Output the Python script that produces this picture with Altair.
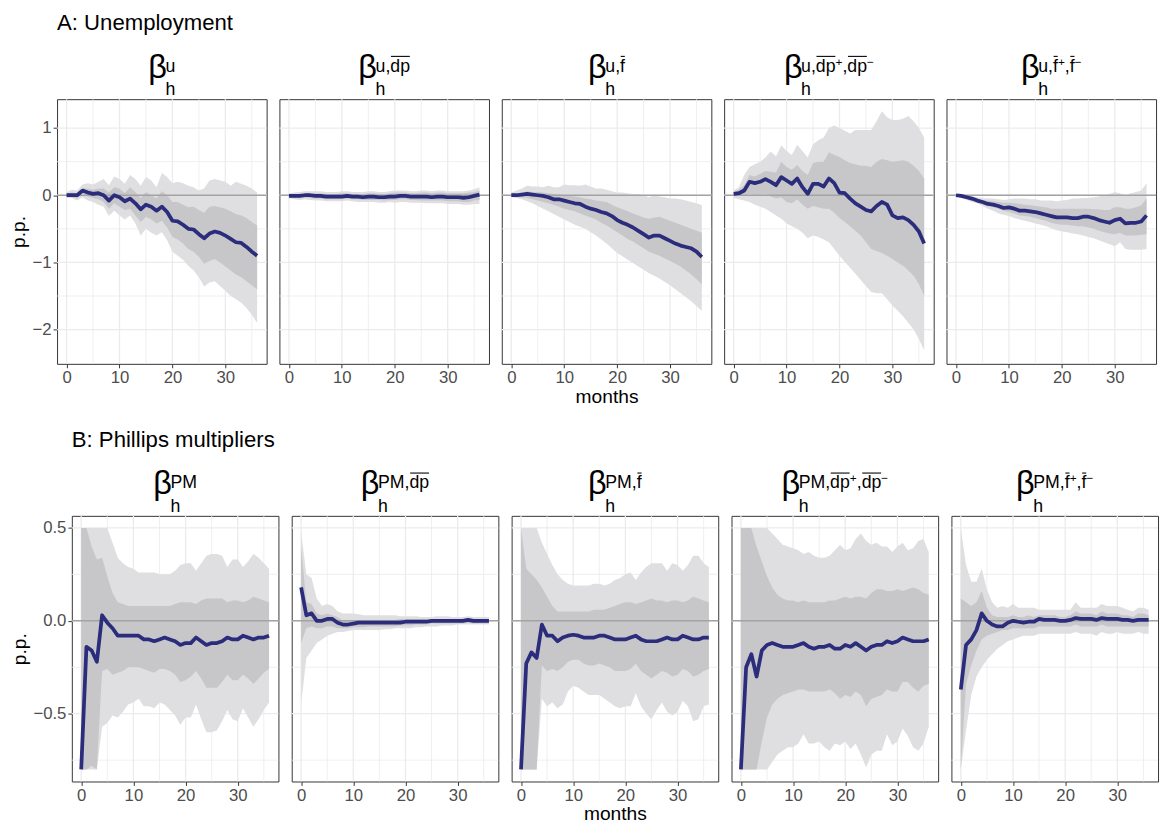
import altair as alt
import pandas as pd

months = list(range(37))

# ---------------- A: unemployment responses ----------------
a1_est = [0.0, 0.0, 0.0, 0.07, 0.04, 0.02, 0.03, 0.0, -0.08, 0.0, -0.03, -0.09, -0.05, -0.12, -0.21, -0.14, -0.17, -0.23, -0.17, -0.25, -0.38, -0.39, -0.44, -0.5, -0.51, -0.58, -0.64, -0.57, -0.54, -0.56, -0.6, -0.65, -0.7, -0.71, -0.77, -0.84, -0.9]
a1_hi90 = [0.05, 0.08, 0.07, 0.16, 0.18, 0.16, 0.2, 0.24, 0.15, 0.28, 0.24, 0.17, 0.3, 0.24, 0.14, 0.27, 0.22, 0.12, 0.33, 0.27, 0.18, 0.2, 0.18, 0.14, 0.12, 0.07, 0.1, 0.22, 0.24, 0.22, 0.2, 0.14, 0.2, 0.17, 0.14, 0.1, 0.04]
a1_lo90 = [-0.04, -0.04, -0.08, -0.03, -0.08, -0.1, -0.14, -0.17, -0.31, -0.23, -0.3, -0.36, -0.3, -0.42, -0.6, -0.5, -0.56, -0.6, -0.55, -0.67, -0.84, -0.9, -0.96, -1.05, -1.12, -1.22, -1.36, -1.3, -1.28, -1.35, -1.42, -1.5, -1.55, -1.6, -1.68, -1.78, -1.9]
a1_hi68 = [0.03, 0.04, 0.03, 0.1, 0.1, 0.08, 0.1, 0.1, 0.04, 0.12, 0.1, 0.03, 0.12, 0.05, -0.04, 0.05, 0.0, -0.05, 0.06, 0.0, -0.1, -0.1, -0.14, -0.18, -0.17, -0.22, -0.26, -0.17, -0.16, -0.18, -0.2, -0.24, -0.28, -0.3, -0.34, -0.4, -0.45]
a1_lo68 = [-0.02, -0.03, -0.05, 0.03, -0.02, -0.04, -0.06, -0.1, -0.2, -0.12, -0.17, -0.22, -0.2, -0.3, -0.4, -0.32, -0.36, -0.42, -0.38, -0.48, -0.62, -0.66, -0.72, -0.8, -0.84, -0.92, -1.02, -0.98, -0.95, -1.0, -1.06, -1.12, -1.18, -1.22, -1.28, -1.34, -1.4]

a2_est = [-0.01, -0.01, -0.01, 0.0, 0.0, -0.01, -0.01, -0.02, -0.02, -0.02, -0.02, -0.01, -0.02, -0.02, -0.03, -0.02, -0.02, -0.03, -0.03, -0.02, -0.02, -0.01, -0.01, -0.02, -0.02, -0.02, -0.02, -0.03, -0.02, -0.02, -0.03, -0.03, -0.03, -0.04, -0.03, -0.01, 0.01]
a2_hi90 = [0.03, 0.04, 0.05, 0.06, 0.06, 0.06, 0.06, 0.05, 0.05, 0.05, 0.06, 0.06, 0.05, 0.05, 0.05, 0.06, 0.06, 0.05, 0.05, 0.06, 0.07, 0.07, 0.07, 0.06, 0.06, 0.07, 0.07, 0.06, 0.07, 0.07, 0.06, 0.06, 0.06, 0.06, 0.07, 0.09, 0.12]
a2_lo90 = [-0.05, -0.06, -0.07, -0.06, -0.07, -0.08, -0.08, -0.09, -0.09, -0.09, -0.09, -0.08, -0.09, -0.1, -0.1, -0.1, -0.1, -0.11, -0.11, -0.1, -0.11, -0.1, -0.1, -0.11, -0.11, -0.11, -0.12, -0.12, -0.12, -0.12, -0.13, -0.13, -0.13, -0.14, -0.14, -0.13, -0.13]
a2_hi68 = [0.01, 0.02, 0.02, 0.03, 0.03, 0.03, 0.03, 0.02, 0.02, 0.02, 0.03, 0.03, 0.02, 0.02, 0.02, 0.03, 0.03, 0.02, 0.02, 0.03, 0.04, 0.04, 0.04, 0.03, 0.03, 0.04, 0.04, 0.03, 0.04, 0.04, 0.03, 0.03, 0.03, 0.03, 0.04, 0.05, 0.07]
a2_lo68 = [-0.03, -0.04, -0.04, -0.03, -0.04, -0.05, -0.05, -0.06, -0.06, -0.06, -0.06, -0.05, -0.06, -0.06, -0.07, -0.07, -0.07, -0.07, -0.08, -0.07, -0.07, -0.06, -0.06, -0.07, -0.07, -0.08, -0.08, -0.08, -0.08, -0.08, -0.09, -0.09, -0.09, -0.1, -0.1, -0.08, -0.07]

a3_est = [0.0, 0.0, 0.01, 0.02, 0.01, 0.0, -0.01, -0.03, -0.06, -0.06, -0.08, -0.1, -0.12, -0.13, -0.17, -0.2, -0.22, -0.25, -0.27, -0.31, -0.37, -0.41, -0.44, -0.48, -0.53, -0.58, -0.63, -0.6, -0.6, -0.64, -0.68, -0.72, -0.75, -0.77, -0.79, -0.84, -0.92]
a3_hi90 = [0.04, 0.07, 0.1, 0.14, 0.13, 0.13, 0.12, 0.14, 0.12, 0.12, 0.16, 0.15, 0.15, 0.14, 0.16, 0.13, 0.1, 0.1, 0.08, 0.06, 0.04, 0.04, 0.03, 0.02, 0.02, 0.0, -0.03, 0.0, -0.02, -0.03, -0.05, -0.05, -0.06, -0.08, -0.1, -0.12, -0.15]
a3_lo90 = [-0.03, -0.04, -0.06, -0.09, -0.12, -0.16, -0.2, -0.24, -0.28, -0.32, -0.36, -0.4, -0.44, -0.47, -0.5, -0.55, -0.6, -0.66, -0.72, -0.79, -0.86, -0.91, -0.96, -1.01, -1.06, -1.11, -1.16, -1.2, -1.24, -1.29, -1.34, -1.4, -1.46, -1.52, -1.58, -1.65, -1.72]
a3_hi68 = [0.02, 0.03, 0.04, 0.06, 0.05, 0.05, 0.04, 0.03, 0.02, 0.01, 0.0, -0.01, -0.02, -0.03, -0.05, -0.06, -0.08, -0.09, -0.1, -0.14, -0.18, -0.21, -0.24, -0.27, -0.3, -0.33, -0.35, -0.33, -0.32, -0.35, -0.38, -0.41, -0.44, -0.47, -0.5, -0.53, -0.56]
a3_lo68 = [-0.02, -0.03, -0.03, -0.04, -0.06, -0.08, -0.1, -0.12, -0.14, -0.17, -0.2, -0.22, -0.24, -0.27, -0.3, -0.33, -0.36, -0.41, -0.45, -0.5, -0.55, -0.6, -0.65, -0.69, -0.74, -0.79, -0.84, -0.87, -0.9, -0.94, -0.98, -1.02, -1.06, -1.12, -1.18, -1.25, -1.32]

a4_est = [0.02, 0.03, 0.07, 0.2, 0.18, 0.2, 0.24, 0.2, 0.15, 0.27, 0.22, 0.17, 0.25, 0.12, 0.02, 0.17, 0.17, 0.13, 0.25, 0.18, 0.04, 0.03, -0.05, -0.12, -0.17, -0.22, -0.24, -0.16, -0.1, -0.14, -0.3, -0.34, -0.33, -0.37, -0.44, -0.54, -0.72]
a4_hi90 = [0.07, 0.12, 0.3, 0.42, 0.46, 0.5, 0.56, 0.65, 0.58, 0.74, 0.66, 0.6, 0.75, 0.66, 0.56, 0.76, 0.82, 0.86, 1.0, 1.04, 1.0, 0.96, 0.92, 0.97, 0.97, 0.97, 0.97, 1.1, 1.25, 1.16, 1.12, 1.12, 1.14, 1.18, 1.1, 1.0, 0.86]
a4_lo90 = [-0.04, -0.06, -0.08, -0.1, -0.14, -0.17, -0.2, -0.25, -0.3, -0.35, -0.42, -0.46, -0.5, -0.56, -0.64, -0.6, -0.62, -0.66, -0.7, -0.8, -0.9, -0.99, -1.08, -1.17, -1.26, -1.35, -1.44, -1.46, -1.46, -1.55, -1.64, -1.72, -1.8, -1.9, -2.0, -2.14, -2.31]
a4_hi68 = [0.04, 0.08, 0.15, 0.3, 0.28, 0.32, 0.36, 0.35, 0.34, 0.5, 0.42, 0.38, 0.45, 0.36, 0.3, 0.48, 0.5, 0.5, 0.64, 0.6, 0.57, 0.52, 0.48, 0.46, 0.44, 0.44, 0.42, 0.5, 0.54, 0.52, 0.5, 0.51, 0.52, 0.5, 0.44, 0.36, 0.25]
a4_lo68 = [-0.01, -0.01, 0.0, 0.02, 0.0, 0.01, 0.02, -0.02, -0.05, -0.03, -0.1, -0.12, -0.06, -0.14, -0.2, -0.16, -0.18, -0.2, -0.2, -0.26, -0.34, -0.4, -0.46, -0.53, -0.6, -0.7, -0.8, -0.83, -0.86, -0.9, -0.95, -1.0, -1.05, -1.12, -1.2, -1.32, -1.5]

a5_est = [0.0, -0.01, -0.03, -0.05, -0.08, -0.1, -0.13, -0.14, -0.16, -0.19, -0.18, -0.2, -0.23, -0.23, -0.24, -0.25, -0.27, -0.29, -0.31, -0.33, -0.33, -0.33, -0.34, -0.34, -0.32, -0.32, -0.34, -0.37, -0.39, -0.41, -0.37, -0.35, -0.42, -0.41, -0.41, -0.39, -0.3]
a5_hi90 = [0.01, 0.0, -0.01, -0.02, -0.03, -0.04, -0.05, -0.05, -0.06, -0.07, -0.06, -0.05, -0.05, -0.05, -0.06, -0.06, -0.08, -0.08, -0.08, -0.09, -0.08, -0.07, -0.05, -0.05, -0.04, -0.04, -0.03, -0.02, 0.0, 0.02, 0.05, 0.03, 0.0, 0.03, 0.05, 0.07, 0.18]
a5_lo90 = [-0.02, -0.04, -0.07, -0.1, -0.12, -0.16, -0.2, -0.23, -0.27, -0.29, -0.31, -0.34, -0.36, -0.38, -0.4, -0.42, -0.44, -0.46, -0.49, -0.52, -0.54, -0.55, -0.57, -0.58, -0.6, -0.62, -0.64, -0.67, -0.7, -0.73, -0.76, -0.7, -0.8, -0.81, -0.81, -0.81, -0.8]
a5_hi68 = [0.0, -0.01, -0.02, -0.04, -0.05, -0.07, -0.08, -0.09, -0.1, -0.11, -0.11, -0.12, -0.13, -0.14, -0.15, -0.16, -0.17, -0.18, -0.2, -0.2, -0.2, -0.2, -0.2, -0.2, -0.2, -0.2, -0.21, -0.21, -0.22, -0.22, -0.18, -0.18, -0.2, -0.2, -0.18, -0.15, -0.05]
a5_lo68 = [-0.01, -0.02, -0.05, -0.07, -0.1, -0.13, -0.16, -0.18, -0.2, -0.23, -0.25, -0.27, -0.3, -0.31, -0.32, -0.34, -0.36, -0.38, -0.41, -0.43, -0.44, -0.44, -0.45, -0.46, -0.46, -0.48, -0.5, -0.53, -0.55, -0.57, -0.58, -0.56, -0.6, -0.6, -0.6, -0.59, -0.58]

# ---------------- B: Phillips multipliers ----------------
b1_est = [-0.8, -0.14, -0.16, -0.22, 0.03, -0.01, -0.04, -0.08, -0.08, -0.08, -0.08, -0.08, -0.1, -0.1, -0.11, -0.1, -0.09, -0.1, -0.11, -0.13, -0.12, -0.12, -0.09, -0.11, -0.13, -0.12, -0.12, -0.11, -0.09, -0.1, -0.1, -0.08, -0.09, -0.1, -0.09, -0.09, -0.08]
b1_hi90 = [0.5, 0.5, 0.5, 0.5, 0.5, 0.5, 0.42, 0.34, 0.31, 0.29, 0.28, 0.26, 0.26, 0.26, 0.26, 0.25, 0.25, 0.25, 0.27, 0.3, 0.31, 0.31, 0.27, 0.31, 0.35, 0.36, 0.36, 0.35, 0.29, 0.33, 0.33, 0.29, 0.32, 0.36, 0.34, 0.31, 0.28]
b1_lo90 = [-0.8, -0.8, -0.8, -0.8, -0.57, -0.55, -0.51, -0.52, -0.49, -0.45, -0.44, -0.42, -0.46, -0.46, -0.47, -0.44, -0.45, -0.48, -0.51, -0.56, -0.52, -0.52, -0.45, -0.53, -0.6, -0.6, -0.59, -0.54, -0.48, -0.53, -0.54, -0.47, -0.52, -0.57, -0.53, -0.48, -0.44]
b1_hi68 = [0.5, 0.5, 0.4, 0.33, 0.34, 0.24, 0.15, 0.1, 0.09, 0.08, 0.08, 0.08, 0.08, 0.08, 0.08, 0.08, 0.08, 0.08, 0.09, 0.1, 0.1, 0.1, 0.09, 0.11, 0.12, 0.12, 0.12, 0.12, 0.1, 0.11, 0.11, 0.1, 0.11, 0.13, 0.12, 0.11, 0.1]
b1_lo68 = [-0.8, -0.8, -0.78, -0.8, -0.27, -0.26, -0.29, -0.28, -0.27, -0.25, -0.25, -0.25, -0.26, -0.27, -0.28, -0.26, -0.26, -0.27, -0.29, -0.33, -0.32, -0.3, -0.27, -0.31, -0.36, -0.36, -0.36, -0.33, -0.29, -0.32, -0.32, -0.29, -0.31, -0.34, -0.31, -0.28, -0.26]

b2_est = [0.18, 0.03, 0.04, 0.0, 0.0, 0.01, 0.01, -0.01, -0.02, -0.02, -0.015, -0.01, -0.01, -0.01, -0.01, -0.01, -0.01, -0.01, -0.01, -0.01, -0.005, -0.005, -0.005, -0.005, -0.005, 0.0, 0.0, 0.0, 0.0, 0.0, 0.0, 0.0, 0.005, 0.0, 0.0, 0.0, 0.0]
b2_hi90 = [0.48, 0.25, 0.23, 0.12, 0.08, 0.09, 0.08, 0.05, 0.04, 0.04, 0.04, 0.035, 0.03, 0.03, 0.03, 0.03, 0.03, 0.03, 0.03, 0.025, 0.025, 0.025, 0.025, 0.02, 0.02, 0.02, 0.025, 0.025, 0.025, 0.02, 0.02, 0.02, 0.025, 0.02, 0.02, 0.02, 0.02]
b2_lo90 = [-0.45, -0.2, -0.16, -0.12, -0.1, -0.08, -0.07, -0.06, -0.06, -0.055, -0.05, -0.05, -0.05, -0.05, -0.05, -0.05, -0.045, -0.045, -0.04, -0.04, -0.04, -0.04, -0.035, -0.035, -0.03, -0.03, -0.03, -0.025, -0.025, -0.025, -0.02, -0.02, -0.02, -0.02, -0.02, -0.02, -0.02]
b2_hi68 = [0.4, 0.1, 0.09, 0.04, 0.03, 0.04, 0.03, 0.02, 0.0, 0.0, 0.0, 0.0, 0.0, 0.0, 0.0, 0.0, 0.005, 0.005, 0.005, 0.01, 0.01, 0.01, 0.01, 0.01, 0.01, 0.01, 0.01, 0.01, 0.01, 0.01, 0.01, 0.01, 0.015, 0.01, 0.01, 0.01, 0.01]
b2_lo68 = [-0.12, -0.04, -0.03, -0.04, -0.04, -0.03, -0.03, -0.04, -0.04, -0.04, -0.035, -0.035, -0.035, -0.03, -0.03, -0.03, -0.03, -0.03, -0.03, -0.025, -0.025, -0.025, -0.02, -0.02, -0.02, -0.015, -0.015, -0.015, -0.015, -0.015, -0.015, -0.015, -0.01, -0.015, -0.015, -0.015, -0.015]

b3_est = [-0.8, -0.23, -0.17, -0.2, -0.02, -0.08, -0.08, -0.11, -0.09, -0.08, -0.075, -0.08, -0.09, -0.09, -0.09, -0.08, -0.08, -0.09, -0.1, -0.1, -0.1, -0.09, -0.08, -0.1, -0.11, -0.11, -0.11, -0.1, -0.09, -0.1, -0.1, -0.08, -0.09, -0.1, -0.1, -0.09, -0.09]
b3_hi90 = [0.5, 0.5, 0.5, 0.5, 0.42, 0.36, 0.3, 0.25, 0.22, 0.2, 0.19, 0.19, 0.19, 0.19, 0.2, 0.2, 0.19, 0.2, 0.22, 0.23, 0.25, 0.26, 0.22, 0.26, 0.29, 0.31, 0.31, 0.31, 0.27, 0.31, 0.3, 0.27, 0.3, 0.35, 0.35, 0.31, 0.29]
b3_lo90 = [-0.8, -0.8, -0.8, -0.8, -0.42, -0.46, -0.44, -0.47, -0.45, -0.38, -0.35, -0.36, -0.38, -0.4, -0.4, -0.4, -0.42, -0.44, -0.46, -0.47, -0.46, -0.46, -0.39, -0.46, -0.5, -0.53, -0.48, -0.44, -0.49, -0.51, -0.49, -0.43, -0.46, -0.54, -0.53, -0.46, -0.45]
b3_hi68 = [0.5, 0.28, 0.25, 0.22, 0.18, 0.13, 0.08, 0.05, 0.05, 0.05, 0.05, 0.05, 0.05, 0.05, 0.06, 0.06, 0.06, 0.07, 0.08, 0.09, 0.1, 0.1, 0.09, 0.1, 0.11, 0.12, 0.11, 0.11, 0.1, 0.11, 0.11, 0.1, 0.11, 0.13, 0.12, 0.11, 0.1]
b3_lo68 = [-0.8, -0.8, -0.8, -0.8, -0.24, -0.27, -0.26, -0.27, -0.25, -0.22, -0.21, -0.21, -0.23, -0.24, -0.24, -0.23, -0.24, -0.25, -0.27, -0.27, -0.27, -0.26, -0.23, -0.27, -0.29, -0.31, -0.29, -0.27, -0.28, -0.3, -0.29, -0.26, -0.27, -0.3, -0.29, -0.27, -0.26]

b4_est = [-0.8, -0.25, -0.18, -0.3, -0.16, -0.13, -0.12, -0.13, -0.14, -0.14, -0.14, -0.13, -0.12, -0.14, -0.15, -0.14, -0.14, -0.13, -0.15, -0.15, -0.13, -0.14, -0.12, -0.14, -0.16, -0.14, -0.13, -0.13, -0.11, -0.12, -0.11, -0.09, -0.1, -0.11, -0.11, -0.11, -0.1]
b4_hi90 = [0.5, 0.5, 0.5, 0.5, 0.5, 0.5, 0.47, 0.44, 0.41, 0.4, 0.39, 0.38, 0.36, 0.37, 0.35, 0.34, 0.34, 0.35, 0.38, 0.41, 0.38, 0.39, 0.44, 0.47, 0.43, 0.41, 0.42, 0.4, 0.4, 0.37, 0.4, 0.42, 0.38, 0.39, 0.43, 0.44, 0.37]
b4_lo90 = [-0.8, -0.8, -0.8, -0.8, -0.8, -0.8, -0.76, -0.72, -0.7, -0.68, -0.68, -0.66, -0.61, -0.66, -0.66, -0.65, -0.68, -0.7, -0.66, -0.67, -0.65, -0.69, -0.66, -0.72, -0.79, -0.72, -0.7, -0.7, -0.61, -0.67, -0.65, -0.58, -0.62, -0.68, -0.7, -0.66, -0.57]
b4_hi68 = [0.5, 0.5, 0.5, 0.4, 0.32, 0.24, 0.18, 0.14, 0.12, 0.11, 0.11, 0.1, 0.11, 0.1, 0.1, 0.1, 0.1, 0.11, 0.11, 0.12, 0.13, 0.12, 0.13, 0.13, 0.12, 0.15, 0.17, 0.17, 0.16, 0.16, 0.17, 0.16, 0.17, 0.18, 0.17, 0.15, 0.14]
b4_lo68 = [-0.8, -0.8, -0.8, -0.8, -0.65, -0.52, -0.45, -0.42, -0.4, -0.39, -0.38, -0.37, -0.37, -0.38, -0.38, -0.38, -0.38, -0.37, -0.39, -0.42, -0.4, -0.41, -0.38, -0.4, -0.46, -0.42, -0.41, -0.4, -0.37, -0.38, -0.38, -0.33, -0.33, -0.36, -0.38, -0.35, -0.34]

b5_est = [-0.37, -0.13, -0.1, -0.05, 0.04, 0.0, -0.02, -0.03, -0.03, -0.01, 0.0, -0.005, -0.01, -0.005, -0.005, 0.01, 0.005, 0.005, 0.005, 0.0, 0.0, 0.005, 0.015, 0.01, 0.01, 0.01, 0.005, 0.015, 0.01, 0.01, 0.01, 0.005, 0.005, 0.0, 0.005, 0.005, 0.005]
b5_hi90 = [0.5, 0.3, 0.21, 0.21, 0.28, 0.17, 0.1, 0.07, 0.08, 0.07, 0.09, 0.07, 0.07, 0.07, 0.07, 0.06, 0.06, 0.06, 0.06, 0.06, 0.06, 0.06, 0.1, 0.07, 0.07, 0.07, 0.07, 0.09, 0.08, 0.08, 0.08, 0.07, 0.06, 0.05, 0.07, 0.07, 0.06]
b5_lo90 = [-0.8, -0.59, -0.4, -0.3, -0.25, -0.21, -0.18, -0.15, -0.13, -0.11, -0.1, -0.09, -0.08, -0.08, -0.08, -0.07, -0.07, -0.07, -0.07, -0.07, -0.07, -0.07, -0.06, -0.07, -0.07, -0.07, -0.08, -0.06, -0.07, -0.07, -0.06, -0.07, -0.07, -0.07, -0.06, -0.07, -0.07]
b5_hi68 = [0.12, 0.1, 0.08, 0.1, 0.16, 0.07, 0.03, 0.02, 0.02, 0.02, 0.03, 0.02, 0.02, 0.03, 0.02, 0.03, 0.03, 0.03, 0.03, 0.02, 0.02, 0.03, 0.05, 0.04, 0.04, 0.04, 0.03, 0.05, 0.04, 0.04, 0.04, 0.03, 0.03, 0.02, 0.04, 0.04, 0.03]
b5_lo68 = [-0.8, -0.34, -0.24, -0.16, -0.1, -0.08, -0.07, -0.06, -0.05, -0.05, -0.04, -0.04, -0.04, -0.04, -0.04, -0.03, -0.03, -0.03, -0.03, -0.03, -0.03, -0.03, -0.02, -0.03, -0.03, -0.03, -0.03, -0.02, -0.03, -0.03, -0.03, -0.03, -0.03, -0.03, -0.03, -0.03, -0.03]

# axis breaks and grid positions
x_ticks = [0, 10, 20, 30]
x_minor = [5, 15, 25, 35]
a_ticks = [-2, -1, 0, 1]
a_minor = [-1.5, -0.5, 0.5]
b_ticks = [-0.5, 0.0, 0.5]
b_minor = [-0.75, -0.25, 0.25]

# superscript pieces of each panel label: (text, style)
# "n" plain, "bar" overlined, "ss" second-level superscript
a_labels = [
    [("u", "n")],
    [("u,", "n"), ("dp", "bar")],
    [("u,", "n"), ("f", "bar")],
    [("u,", "n"), ("dp", "bar"), ("+", "ss"), (",", "n"), ("dp", "bar"), ("\u2212", "ss")],
    [("u,", "n"), ("f", "bar"), ("+", "ss"), (",", "n"), ("f", "bar"), ("\u2212", "ss")],
]
b_labels = [
    [("PM", "n")],
    [("PM,", "n"), ("dp", "bar")],
    [("PM,", "n"), ("f", "bar")],
    [("PM,", "n"), ("dp", "bar"), ("+", "ss"), (",", "n"), ("dp", "bar"), ("\u2212", "ss")],
    [("PM,", "n"), ("f", "bar"), ("+", "ss"), (",", "n"), ("f", "bar"), ("\u2212", "ss")],
]

FONT = "Liberation Sans"
NAVY = "#2b2c7c"
LIGHT = "#dfdfe1"
DARK = "#c7c7c9"
ZERO = "#a3a3a3"
GRID = "#ebebeb"
INK = "#333333"

X_SCALE = alt.Scale(domain=[-1.8, 37.8], nice=False, zero=False)
ONE = pd.DataFrame({"k": [0]})

# advance widths (em) for the label glyphs
CW = {"u": 0.556, ",": 0.278, "d": 0.556, "p": 0.556, "f": 0.278, "P": 0.667,
      "M": 0.833, "+": 0.584, "\u2212": 0.584, "h": 0.556, "\u03b2": 0.53}

SB, SS, SSS = 33, 18, 12          # font sizes: beta, scripts, second-level scripts
Y_BETA, Y_SUB, Y_SUP = -22, -4, -28
Y_SUP2 = Y_SUP - 6
Y_BAR = Y_SUP - 15.5


def tw(s, size):
    return sum(CW[c] for c in s) * size


def label_layers(parts, width):
    sup_w = 0.0
    for text, style in parts:
        sup_w += tw(text, SSS if style == "ss" else SS)
    beta_w = tw("\u03b2", SB)
    total = beta_w + max(sup_w, tw("h", SS))
    x0 = width / 2 - total / 2
    layers = []

    def txt(t, x, y, size):
        return alt.Chart(ONE).mark_text(
            text=t, font=FONT, fontSize=size, align="left", baseline="alphabetic", color="black"
        ).encode(x=alt.value(x), y=alt.value(y))

    layers.append(txt("\u03b2", x0, Y_BETA, SB))
    xs = x0 + beta_w
    layers.append(txt("h", xs, Y_SUB, SS))
    x = xs
    for text, style in parts:
        size = SSS if style == "ss" else SS
        y = Y_SUP2 if style == "ss" else Y_SUP
        layers.append(txt(text, x, y, size))
        w = tw(text, size)
        if style == "bar":
            layers.append(
                alt.Chart(ONE).mark_rule(color="black", strokeWidth=1.1).encode(
                    x=alt.value(x + 0.6), x2=alt.value(x + w - 0.2), y=alt.value(Y_BAR)
                )
            )
        x += w
    return layers


def panel(series, ydom, yticks, yminor, yfmt, parts, width, height,
          show_y=False, xtitle=None, row_title=None):
    est, lo90, hi90, lo68, hi68 = series
    df = pd.DataFrame({"h": months, "est": est, "lo90": lo90, "hi90": hi90,
                       "lo68": lo68, "hi68": hi68})
    ys = alt.Scale(domain=ydom, nice=False, zero=False)
    xaxis = alt.Axis(values=x_ticks, grid=False, domain=False, labelFlush=False,
                     tickColor=INK, tickSize=4, tickWidth=1,
                     labelColor="#4d4d4d", labelFontSize=17, labelFont=FONT, labelPadding=2,
                     title=xtitle, titleFontSize=19.5, titleFont=FONT, titleColor="black",
                     titleFontWeight="normal", titlePadding=2)
    if show_y:
        yaxis = alt.Axis(values=yticks, format=yfmt, grid=False, domain=False,
                         tickColor=INK, tickSize=4, tickWidth=1,
                         labelColor="#4d4d4d", labelFontSize=17, labelFont=FONT, labelPadding=2,
                         title="p.p.", titleFontSize=19.5, titleFont=FONT, titleColor="black",
                         titleFontWeight="normal", titlePadding=4)
    else:
        yaxis = None

    X = lambda f: alt.X(f, type="quantitative", scale=X_SCALE, axis=xaxis)
    Y = lambda f: alt.Y(f, type="quantitative", scale=ys, axis=yaxis)

    gx_major = alt.Chart(pd.DataFrame({"v": x_ticks})).mark_rule(color=GRID, strokeWidth=1.3).encode(x=X("v"))
    gx_minor = alt.Chart(pd.DataFrame({"v": x_minor})).mark_rule(color=GRID, strokeWidth=0.8).encode(x=X("v"))
    gy_major = alt.Chart(pd.DataFrame({"v": yticks})).mark_rule(color=GRID, strokeWidth=1.3).encode(y=Y("v"))
    gy_minor = alt.Chart(pd.DataFrame({"v": yminor})).mark_rule(color=GRID, strokeWidth=0.8).encode(y=Y("v"))

    base = alt.Chart(df)
    band90 = base.mark_area(color=LIGHT, opacity=1).encode(x=X("h"), y=Y("lo90"), y2="hi90")
    band68 = base.mark_area(color=DARK, opacity=1).encode(x=X("h"), y=Y("lo68"), y2="hi68")
    zero = alt.Chart(pd.DataFrame({"v": [0]})).mark_rule(color=ZERO, strokeWidth=1.5).encode(y=Y("v"))
    line = base.mark_line(color=NAVY, strokeWidth=3.8, strokeJoin="round").encode(x=X("h"), y=Y("est"))

    layers = [gx_minor, gx_major, gy_minor, gy_major, band90, band68, zero, line]
    layers += label_layers(parts, width)
    if row_title:
        layers.append(
            alt.Chart(ONE).mark_text(text=row_title, font=FONT, fontSize=22.5, align="left",
                                     baseline="alphabetic", color="black")
            .encode(x=alt.value(0), y=alt.value(-70))
        )
    return alt.layer(*layers).properties(width=width, height=height)


def anchor(height):
    # invisible 1px column: rows line up on it, so each row's own axis width sets its plot offset
    return alt.Chart(ONE).mark_text(text="").encode(
        x=alt.value(0), y=alt.value(0)
    ).properties(width=1, height=height, view=alt.ViewBackground(strokeOpacity=0))


a_series = [
    (a1_est, a1_lo90, a1_hi90, a1_lo68, a1_hi68),
    (a2_est, a2_lo90, a2_hi90, a2_lo68, a2_hi68),
    (a3_est, a3_lo90, a3_hi90, a3_lo68, a3_hi68),
    (a4_est, a4_lo90, a4_hi90, a4_lo68, a4_hi68),
    (a5_est, a5_lo90, a5_hi90, a5_lo68, a5_hi68),
]
b_series = [
    (b1_est, b1_lo90, b1_hi90, b1_lo68, b1_hi68),
    (b2_est, b2_lo90, b2_hi90, b2_lo68, b2_hi68),
    (b3_est, b3_lo90, b3_hi90, b3_lo68, b3_hi68),
    (b4_est, b4_lo90, b4_hi90, b4_lo68, b4_hi68),
    (b5_est, b5_lo90, b5_hi90, b5_lo68, b5_hi68),
]

panels_a = alt.hconcat(*[
    panel(s, [-2.51, 1.43], a_ticks, a_minor, "d", lab, 213, 269,
          show_y=(i == 0), xtitle=("months" if i == 2 else None),
          row_title=("A: Unemployment" if i == 0 else None))
    for i, (s, lab) in enumerate(zip(a_series, a_labels))
], spacing=9)

panels_b = alt.hconcat(*[
    panel(s, [-0.865, 0.565], b_ticks, b_minor, ".1f", lab, 210, 270,
          show_y=(i == 0), xtitle=("months" if i == 2 else None),
          row_title=("B: Phillips multipliers" if i == 0 else None))
    for i, (s, lab) in enumerate(zip(b_series, b_labels))
], spacing=9.5)

row_a = alt.hconcat(anchor(269), panels_a, spacing=0)
row_b = alt.hconcat(anchor(270), panels_b, spacing=0)

chart = alt.vconcat(row_a, row_b, spacing=22.5).properties(
    padding={"left": 7, "top": 5, "right": 0, "bottom": 0}
).configure(font=FONT).configure_view(stroke=INK, strokeWidth=1)

chart.save("out.html", embed_options={"renderer": "svg", "actions": False})
